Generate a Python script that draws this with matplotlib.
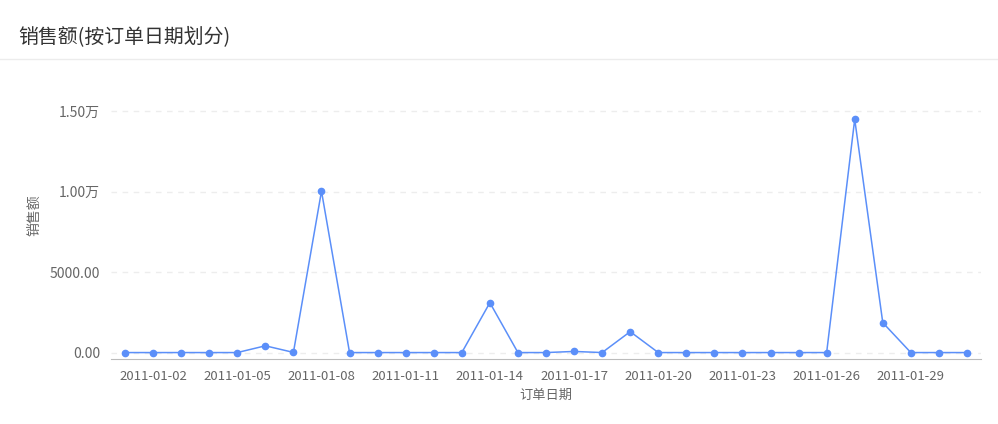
import numpy as np
import matplotlib
matplotlib.use('Agg')
import matplotlib.pyplot as plt

plt.rcParams['font.family'] = ['Noto Sans CJK SC', 'DejaVu Sans']

# data
dates = ["2011-01-%02d" % d for d in range(1, 32)]
sales = [0, 0, 0, 0, 0, 420, 10, 10030, 0, 0,
         0, 0, 0, 3100, 0, 0, 70, 0, 1300, 0,
         0, 0, 0, 0, 0, 0, 14500, 1860, 0, 0,
         0]
yticks = [0, 5000, 10000, 15000]
ytick_labels = ["0.00", "5000.00", "1.00万", "1.50万"]

W, H = 998, 424
fig = plt.figure(figsize=(W / 100, H / 100), dpi=100)

fig.text(18 / W, 1 - 37 / H, "销售额(按订单日期划分)", fontsize=14.3,
         color="#333333", ha="left", va="center")
fig.add_artist(plt.Line2D([0, 1], [1 - 59 / H, 1 - 59 / H], color="#ececec", lw=1))

ax = fig.add_axes([111 / W, 1 - 359 / H, (981 - 111) / W, (359 - 108) / H])
x = np.arange(len(dates))
ax.plot(x, sales, color="#5b8ff9", lw=1.1, marker="o", ms=4.5, zorder=3)

ax.set_xlim(-0.5, len(dates) - 0.5)
ax.set_ylim(-400, 15200)
ax.set_yticks(yticks)
ax.set_yticklabels(ytick_labels)
ax.set_xticks(x[1::3])
ax.set_xticklabels([dates[i] for i in x[1::3]])

for v in yticks:
    ax.axhline(v, color="#ededed", lw=1, ls=(0, (4, 4)), zorder=1)

for s in ["top", "right", "left"]:
    ax.spines[s].set_visible(False)
ax.spines["bottom"].set_color("#bbbbbb")
ax.tick_params(axis="both", length=0, colors="#666666")
ax.tick_params(axis="y", pad=8, labelsize=10)
ax.tick_params(axis="x", pad=8, labelsize=9.5)

ax.set_xlabel("订单日期", fontsize=9.5, color="#666666", labelpad=4)
ax.set_ylabel("销售额", fontsize=10, color="#666666")
ax.yaxis.set_label_coords((41 - 111) / (981 - 111), (359 - 215) / (359 - 108))

plt.savefig("out.png", dpi=100)
plt.close()
